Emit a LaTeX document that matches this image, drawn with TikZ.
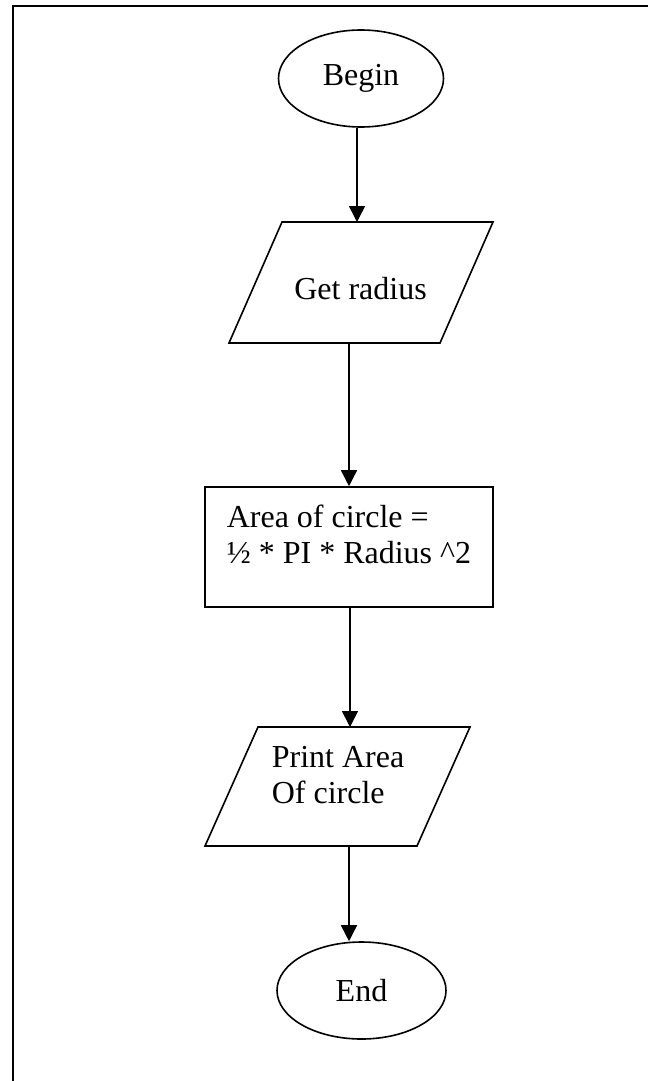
\documentclass[tikz,border=0pt]{standalone}
\usepackage{fontspec}
\setmainfont{Liberation Serif}
\usetikzlibrary{shapes.geometric,arrows.meta}
\begin{document}
\begin{tikzpicture}[x=0.75pt,y=-0.75pt,
  line width=1.2pt,
  term/.style={draw, ellipse, inner sep=0pt, font=\fontsize{24}{26.5}\selectfont},
  lbl/.style={inner sep=0pt, align=left, font=\fontsize{24}{26.5}\selectfont},
  flow/.style={-{Triangle[length=12pt,width=12pt]}}]
\useasboundingbox (0,0) rectangle (648,1081);
% page frame (top and left only)
\draw[line width=1.8pt] (12.7,1081) -- (12.7,6) -- (648,6);

% Begin
\node[term, minimum width=123.75pt, minimum height=72.75pt] (begin) at (361,78.5) {Begin};

% Get radius (parallelogram)
\draw (282,222) -- (493,222) -- (440,343) -- (229,343) -- cycle;
\node[lbl, anchor=base] (get) at (360.5,299) {Get radius};
\coordinate (getN) at (357,222);
\coordinate (getS) at (349,343);

% Calculation box
\node[draw, rectangle, inner sep=0pt, minimum width=216pt, minimum height=90pt] (calc) at (349,547) {};
\node[lbl, anchor=base west] (calcText) at (226,563) {Area of circle =\\½ * PI * Radius \string^2};

% Print (parallelogram)
\draw (258,727) -- (470,727) -- (417,846) -- (205,846) -- cycle;
\node[lbl, anchor=base west] (print) at (271,803) {Print Area\\Of circle};
\coordinate (printN) at (350,727);
\coordinate (printS) at (349,846);

% End
\node[term, minimum width=126.75pt, minimum height=72.75pt] (end) at (361.5,990.5) {End};

% connectors
\draw[flow] (begin.south -| getN) -- (getN);
\draw[flow] (getS) -- (calc.north -| getS);
\draw[flow] (calc.south -| printN) -- (printN);
\draw[flow] (printS) -- (end.north -| printS);
\end{tikzpicture}
\end{document}
